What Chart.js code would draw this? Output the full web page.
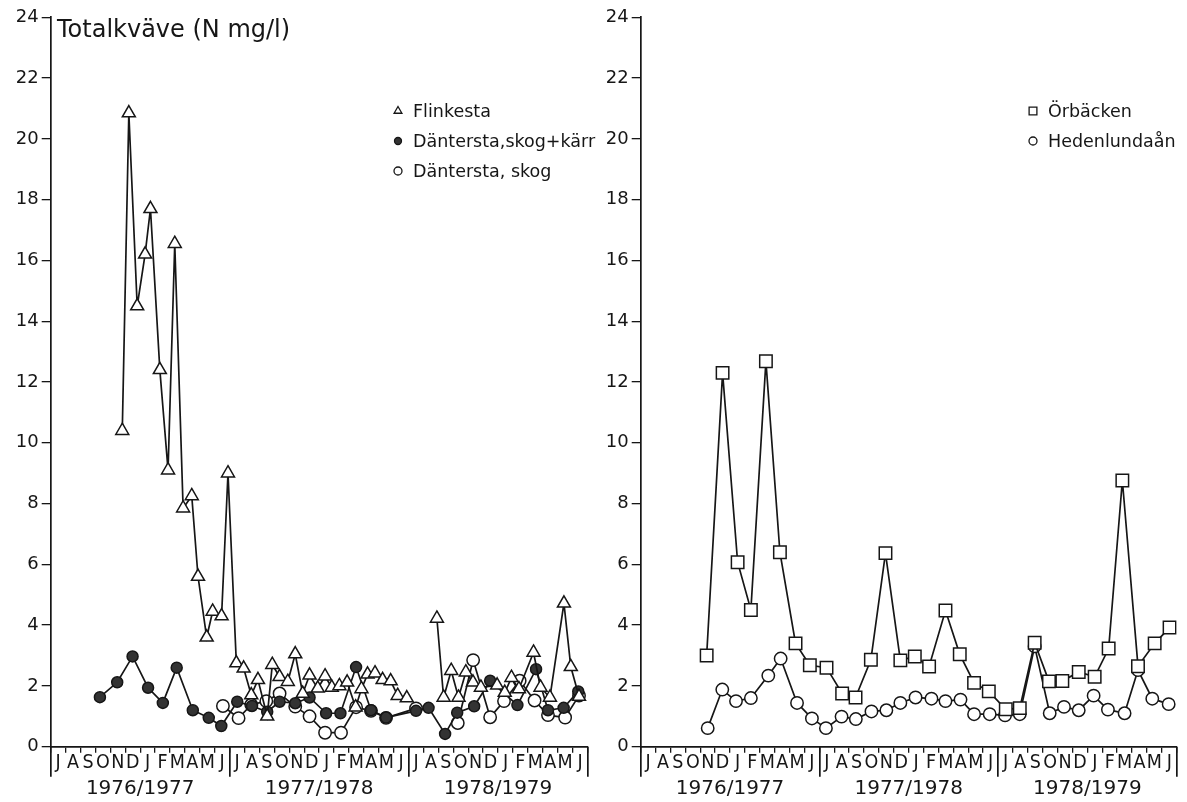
<!DOCTYPE html>
<html>
<head>
<meta charset="utf-8">
<script src="https://cdn.jsdelivr.net/npm/chart.js"></script>
<style>
  body { margin: 0; background: #fff; width: 1187px; height: 802px; overflow: hidden; position: relative; }
  canvas { position: absolute; top: 0; }
  #left { left: 0; }
  #right { left: 595px; }
</style>
</head>
<body>
<canvas id="left" width="600" height="802"></canvas>
<canvas id="right" width="592" height="802"></canvas>
<script>
// time axis: months counted from 1 July 1976 (36 = end of June 1979)
const monthLetters = ['J', 'A', 'S', 'O', 'N', 'D', 'J', 'F', 'M', 'A', 'M', 'J'];
const seasons = ['1976/1977', '1977/1978', '1978/1979'];
const yTickStep = 2;
const yMax = 24;

// Flinkesta
const flinkestaTime = [4.8, 5.24, 5.8, 6.33, 6.69, 7.32, 7.87, 8.32, 8.88, 9.46, 9.88, 10.46, 10.86, 11.46, 11.89,
  12.45, 12.94, 13.45, 13.9, 14.52, 14.86, 15.35, 15.9, 16.4, 16.9, 17.36, 17.91, 18.4, 18.85, 19.36, 19.88,
  20.45, 20.84, 21.25, 21.75, 22.26, 22.8, 23.27, 23.88, 24.9,
  25.9, 26.35, 26.86, 27.35, 27.84, 28.32, 28.85, 29.94, 30.45, 30.9, 31.4, 32.38, 32.85, 33.48, 34.42, 34.88, 35.43];
const flinkestaN = [10.4, 20.85, 14.5, 16.2, 17.7, 12.4, 9.1, 16.55, 7.85, 8.25, 5.6, 3.6, 4.45, 4.3, 9.0,
  2.75, 2.58, 1.7, 2.2, 1.0, 2.7, 2.3, 2.14, 3.05, 1.75, 2.35, 1.92, 2.32, 1.95, 2.0, 2.12,
  1.3, 1.9, 2.38, 2.42, 2.2, 2.16, 1.68, 1.6, null,
  4.22, 1.62, 2.5, 1.62, 2.45, 2.12, 1.95, 2.02, 1.78, 2.27, 1.9, 3.1, 1.95, 1.62, 4.72, 2.63, 1.65];

// Däntersta, skog+kärr
const karrTime = [3.3, 4.46, 5.49, 6.53, 7.52, 8.45, 9.53, 10.6, 11.44, 12.51, 13.5, 14.52, 15.35, 16.4, 17.36,
  18.47, 19.43, 20.48, 21.48, 22.49, 24.5, 25.34, 26.45, 27.26, 28.4, 29.47, 31.3, 32.55, 33.35, 34.4, 35.38];
const karrN = [1.63, 2.12, 2.97, 1.94, 1.44, 2.6, 1.2, 0.95, 0.68, 1.48, 1.34, 1.15, 1.48, 1.43, 1.62,
  1.1, 1.1, 2.62, 1.2, 0.96, 1.18, 1.28, 0.42, 1.12, 1.33, 2.17, 1.37, 2.55, 1.2, 1.28, 1.82];

// Däntersta, skog
const skogTime = [11.55, 12.6, 13.45, 14.46, 15.35, 16.4, 17.36, 18.4, 19.47, 20.48, 21.48, 22.49, 24.5, 25.9,
  27.3, 28.33, 29.47, 30.4, 31.45, 32.45, 33.35, 34.5, 35.43];
const skogN = [1.34, 0.94, 1.38, 1.5, 1.75, 1.32, 1.0, 0.46, 0.46, 1.3, 1.18, 0.95, 1.26, null,
  0.78, 2.85, 0.97, 1.5, 2.17, 1.52, 1.04, 0.96, 1.68];

// Örbäcken
const orbackenTime = [4.43, 5.5, 6.51, 7.4, 8.41, 9.35, 10.4, 11.36, 12.48, 13.53, 14.43, 15.46, 16.44, 17.44,
  18.41, 19.37, 20.47, 21.43, 22.39, 23.38, 24.52, 25.46, 26.46, 27.42, 28.32, 29.42, 30.49, 31.43, 32.35,
  33.4, 34.52, 35.52];
const orbackenN = [3.0, 12.3, 6.07, 4.5, 12.68, 6.4, 3.4, 2.68, 2.6, 1.75, 1.62, 2.86, 6.37, 2.84,
  2.97, 2.64, 4.48, 3.04, 2.1, 1.82, 1.23, 1.27, 3.42, 2.15, 2.16, 2.46, 2.3, 3.23, 8.76,
  2.65, 3.4, 3.92];

// Hedenlundaån
const hedenTime = [4.5, 5.48, 6.4, 7.4, 8.57, 9.4, 10.5, 11.5, 12.44, 13.49, 14.45, 15.5, 16.5, 17.44,
  18.46, 19.53, 20.47, 21.48, 22.39, 23.44, 24.47, 25.46, 26.46, 27.47, 28.43, 29.42, 30.42, 31.38, 32.5,
  33.4, 34.36, 35.46];
const hedenN = [0.61, 1.88, 1.5, 1.6, 2.34, 2.9, 1.44, 0.93, 0.61, 0.99, 0.91, 1.16, 1.2, 1.44,
  1.62, 1.58, 1.5, 1.55, 1.07, 1.07, 1.03, 1.07, 3.3, 1.1, 1.31, 1.2, 1.68, 1.22, 1.1,
  2.52, 1.58, 1.4];

const INK = '#161616';
const FONT = "'DejaVu Sans', 'Liberation Sans', sans-serif";
const NARROW = "'DejaVu Sans Condensed', 'DejaVu Sans', sans-serif";
const monthLabels = [].concat(monthLetters, monthLetters, monthLetters);

const pairs = (t, v) => t.map((x, i) => ({ x: x, y: v[i] }));

function series(label, t, v, style, radius, fill) {
  return {
    label: label,
    data: pairs(t, v),
    borderColor: INK,
    borderWidth: 1.7,
    pointStyle: style,
    pointRadius: radius,
    pointBorderWidth: 1.5,
    pointBorderColor: INK,
    pointBackgroundColor: fill,
    backgroundColor: fill,
    tension: 0,
    spanGaps: false
  };
}

function buildScales(yWidth) {
  return {
    x: {
      type: 'linear', position: 'bottom', min: 0, max: 36,
      ticks: { display: false, stepSize: 1, maxTicksLimit: 40 },
      grid: { drawOnChartArea: false, tickLength: 6, color: INK, lineWidth: 1.3 },
      border: { display: true, color: INK, width: 1.7 },
      afterFit: s => { s.height = 0; }
    },
    months: {
      type: 'category', position: 'bottom', labels: monthLabels, offset: true,
      grid: {
        offset: true, drawOnChartArea: false, tickLength: 30, lineWidth: 1.7,
        tickColor: c => (c.index === undefined || c.index % 12 === 0) ? INK : 'rgba(0,0,0,0)'
      },
      border: { display: false },
      ticks: { autoSkip: false, maxRotation: 0, padding: -25, color: INK, font: { family: NARROW, size: 19.5 } },
      afterFit: s => { s.height = 32; }
    },
    years: {
      type: 'category', position: 'bottom', labels: seasons, offset: true,
      grid: { display: false, drawTicks: false },
      border: { display: false },
      ticks: { autoSkip: false, maxRotation: 0, padding: -2, color: INK, font: { family: FONT, size: 20 } },
      afterFit: s => { s.height = 23.3; }
    },
    y: {
      min: 0, max: yMax,
      ticks: { stepSize: yTickStep, padding: 3, color: INK, font: { family: FONT, size: 18 } },
      grid: { drawOnChartArea: false, tickLength: 9, color: INK, lineWidth: 1.3 },
      border: { color: INK, width: 1.7 },
      afterFit: s => { s.width = yWidth; }
    }
  };
}

// title and key drawn inside the plot area
const panelText = {
  id: 'panelText',
  afterDraw(chart, args, opts) {
    const ctx = chart.ctx;
    ctx.save();
    ctx.fillStyle = INK;
    ctx.textBaseline = 'alphabetic';
    if (opts.title) {
      ctx.font = '24px ' + FONT;
      ctx.fillText(opts.title, opts.titleX, opts.titleY);
    }
    ctx.font = '17.5px ' + FONT;
    chart.data.datasets.forEach((ds, i) => {
      const y = opts.keyY + i * opts.keyGap;
      ctx.fillStyle = ds.pointBackgroundColor;
      ctx.strokeStyle = INK;
      ctx.lineWidth = 1.3;
      Chart.helpers.drawPoint(ctx, { pointStyle: ds.pointStyle, radius: opts.keySize[i], rotation: 0, borderWidth: 1.3 }, opts.keyX, y - 6);
      ctx.fillStyle = INK;
      ctx.fillText(ds.label, opts.keyX + 15, y);
    });
    ctx.restore();
  }
};

function makeChart(id, datasets, yWidth, padRight, text) {
  return new Chart(document.getElementById(id), {
    type: 'line',
    data: { datasets: datasets },
    options: {
      responsive: false,
      animation: false,
      layout: { padding: { top: 17.3, right: padRight, bottom: 0, left: 0 } },
      scales: buildScales(yWidth),
      plugins: {
        legend: { display: false },
        tooltip: { enabled: false },
        panelText: text
      }
    },
    plugins: [panelText]
  });
}

makeChart('left', [
  series('Flinkesta', flinkestaTime, flinkestaN, 'triangle', 7.5, '#ffffff'),
  series('Däntersta,skog+kärr', karrTime, karrN, 'circle', 5.5, '#333333'),
  series('Däntersta, skog', skogTime, skogN, 'circle', 6.2, '#ffffff')
], 50.7, 12.5, {
  title: 'Totalkväve (N mg/l)', titleX: 57, titleY: 37,
  keyX: 398, keyY: 117, keyGap: 30, keySize: [4.5, 3.5, 4]
});

makeChart('right', [
  series('Örbäcken', orbackenTime, orbackenN, 'rect', 8.8, '#ffffff'),
  series('Hedenlundaån', hedenTime, hedenN, 'circle', 6.2, '#ffffff')
], 45.7, 10.3, {
  title: '', keyX: 438, keyY: 117, keyGap: 30, keySize: [5.5, 4]
});
</script>
</body>
</html>
